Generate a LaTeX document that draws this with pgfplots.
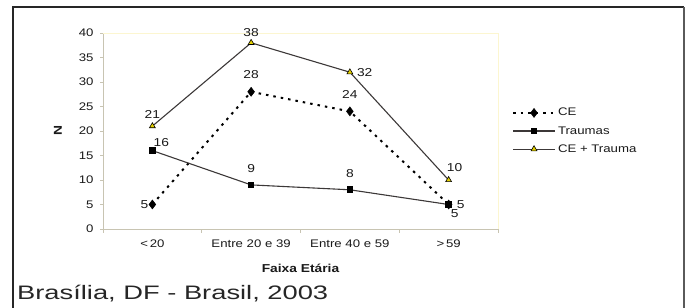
\documentclass[border=0pt]{standalone}
\usepackage{pgfplots}
\pgfplotsset{compat=1.18}
\usepackage{fontspec}
\setmainfont{Liberation Sans}
\newfontfamily\chartfont[FakeStretch=1.2]{Liberation Sans}
\newfontfamily\footfont[FakeStretch=1.4]{Liberation Sans}
\definecolor{axgray}{RGB}{200,196,178}
\definecolor{boxyel}{RGB}{252,246,208}
\definecolor{linegray}{RGB}{60,56,56}
\definecolor{triyel}{RGB}{228,208,0}
\definecolor{framegray}{RGB}{90,90,90}
\begin{document}
\begin{tikzpicture}
\useasboundingbox (0,0) rectangle (687bp,308bp);
% outer frame
\draw[line width=1.6bp, black!85] (13bp,0) -- (13bp,301bp) -- (684bp,301bp);
\draw[line width=2.2bp, framegray] (684bp,301bp) -- (684bp,0);
\node[anchor=base west, inner sep=0, font=\footfont\fontsize{19.5bp}{22bp}\selectfont, text=black!85] at (17bp,9bp) {Brasília, DF - Brasil, 2003};
\begin{axis}[
  at={(103bp,79bp)}, anchor=south west,
  scale only axis, width=395bp, height=196bp,
  xmin=-0.5, xmax=3.5, ymin=0, ymax=40,
  axis lines=left,
  axis line style={-, draw=axgray, line width=0.9bp},
  xtick={0,1,2,3},
  xticklabels={{<\,20},{Entre 20 e 39},{Entre 40 e 59},{>\,59}},
  minor xtick={-0.5,0.5,1.5,2.5,3.5},
  ytick={0,5,...,40},
  tick align=outside,
  major tick length=3bp,
  minor tick length=4bp,
  xtick style={draw=none},
  minor x tick style={draw=axgray, line width=0.9bp},
  ytick style={draw=axgray, line width=0.9bp},
  /pgf/number format/assume math mode=true,
  tick label style={font=\chartfont\fontsize{11bp}{13bp}\selectfont, text=black!90},
  xticklabel style={yshift=-4bp},
  yticklabel style={xshift=-3bp},
  xlabel={\bfseries Faixa Etária},
  ylabel={\bfseries N},
  label style={font=\chartfont\fontsize{11.5bp}{13bp}\selectfont, text=black!90},
  xlabel style={at={(axis description cs:0.5,-0.199)}, anchor=center},
  ylabel style={at={(axis description cs:-0.114,0.5)}, anchor=center},
  legend style={at={(1.035,0.5)}, anchor=west, draw=none, fill=none,
    font=\chartfont\fontsize{11bp}{13bp}\selectfont, text=black!90,
    row sep=5bp, inner sep=0pt},
  legend cell align=left,
  legend image code/.code={%
    \draw[#1, mark repeat=2, mark phase=2] plot coordinates {(0bp,0bp) (21bp,0bp) (42bp,0bp)};},
  clip=false,
]
\draw[boxyel, line width=0.9bp] (axis cs:-0.5,40) -- (axis cs:3.5,40) -- (axis cs:3.5,0);
\addplot[black, line width=2bp, dash pattern=on 2.5bp off 5bp, mark=diamond*, mark size=4.5bp, mark options={solid, fill=black, line width=0.5bp}]
  coordinates {(0,5) (1,28) (2,24) (3,5)};
\addlegendentry{CE}
\addplot[linegray, line width=1.1bp, mark=square*, mark size=2.8bp, mark options={solid, fill=black, draw=black}]
  coordinates {(0,16) (1,9) (2,8) (3,5)};
\addlegendentry{Traumas}
\addplot[linegray, line width=1.1bp, mark=triangle*, mark size=3.4bp, mark options={solid, fill=triyel, draw=black, line width=0.6bp}]
  coordinates {(0,21) (1,38) (2,32) (3,10)};
\addlegendentry{CE + Trauma}
% data labels
\begin{scope}[every node/.style={font=\chartfont\fontsize{11.5bp}{13bp}\selectfont, text=black!90, inner sep=1bp}]
\node[above=6bp] at (axis cs:0,21) {21};
\node[above=5bp] at (axis cs:1,38) {38};
\node[right=6bp] at (axis cs:2,32) {32};
\node[above=7bp, xshift=6bp] at (axis cs:3,10) {10};
\node[left=3bp] at (axis cs:0,5) {5};
\node[above=12bp] at (axis cs:1,28) {28};
\node[above=12bp] at (axis cs:2,24) {24};
\node[below=4bp, xshift=6bp] at (axis cs:3,5) {5};
\node[above=3bp, xshift=9bp] at (axis cs:0,16) {16};
\node[above=11bp] at (axis cs:1,9) {9};
\node[above=11bp] at (axis cs:2,8) {8};
\node[right=7bp] at (axis cs:3,5) {5};
\end{scope}
\end{axis}
\end{tikzpicture}
\end{document}
